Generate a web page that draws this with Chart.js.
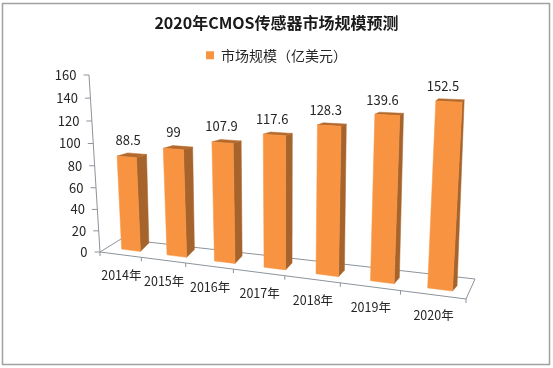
<!DOCTYPE html>
<html><head><meta charset="utf-8">
<style>html,body{margin:0;padding:0;background:#fff}#w{position:relative;width:553px;height:368px}</style>
<script src="https://cdn.jsdelivr.net/npm/chart.js@4"></script></head>
<body><div id="w"><canvas id="c" width="553" height="368"></canvas></div>
<script>
const categories = ['2014年','2015年','2016年','2017年','2018年','2019年','2020年'];
const marketSize = [88.5,99,107.9,117.6,128.3,139.6,152.5];
const seriesName = '市场规模（亿美元）';
const yTicks = [0,20,40,60,80,100,120,140,160];
const titleText = '2020年CMOS传感器市场规模预测';

const FONT = '"Noto Sans CJK SC","Noto Sans",sans-serif';
const FRONT='#F89441', SIDE='#A6642C', TOP='#B56A2D', AXIS='#8E949B', TEXT='#262626';

// homography from 4 source points to 4 destination points
function homography(s,d){
  const A=[];
  for(let i=0;i<4;i++){
    const [x,y]=s[i],[u,v]=d[i];
    A.push([x,y,1,0,0,0,-u*x,-u*y,u]);
    A.push([0,0,0,x,y,1,-v*x,-v*y,v]);
  }
  for(let c=0;c<8;c++){
    let p=c;for(let r=c+1;r<8;r++)if(Math.abs(A[r][c])>Math.abs(A[p][c]))p=r;
    [A[c],A[p]]=[A[p],A[c]];
    for(let r=0;r<8;r++){if(r===c)continue;const f=A[r][c]/A[c][c];for(let k=c;k<9;k++)A[r][k]-=f*A[c][k];}
  }
  const h=A.map((r,i)=>r[8]/r[i]);
  return (x,y)=>{const w=h[6]*x+h[7]*y+1;return [(h[0]*x+h[1]*y+h[2])/w,(h[3]*x+h[4]*y+h[5])/w];};
}
function quad(ctx,pts,fill){
  ctx.beginPath();pts.forEach((p,i)=>i?ctx.lineTo(p[0],p[1]):ctx.moveTo(p[0],p[1]));ctx.closePath();
  ctx.fillStyle=fill;ctx.fill();ctx.strokeStyle=fill;ctx.lineWidth=.5;ctx.stroke();
}
function line(ctx,a,b){ctx.beginPath();ctx.moveTo(a[0],a[1]);ctx.lineTo(b[0],b[1]);ctx.stroke();}

// perspective layout: where the plot's corners land on the page
const frontPlane=[[131,250.3],[440,289.5],[449.4,91.7],[123,77.5]];   // first/last bar centre at 0 and at axis max
const depthOffset=[[8.5,-8.5],[4.7,-5.5],[2.2,-2.1],[12,1]];          // bar depth at the same four corners
const axisPlane =[[100,252],[466,299],[477,67],[89,75]];              // outer edge of the axes
const floorBack =[[121,239],[475,279]];

const perspective={
  id:'perspective',
  beforeDatasetDraw(){return false;},
  afterDatasetsDraw(chart){
    const ctx=chart.ctx,xS=chart.scales.x,yS=chart.scales.y;
    const y0=yS.getPixelForValue(0),yM=yS.getPixelForValue(yS.max);
    const x0=xS.getPixelForValue(0),xN=xS.getPixelForValue(categories.length-1);
    const src=[[x0,y0],[xN,y0],[xN,yM],[x0,yM]];
    const F=homography(src,frontPlane);
    const B=(x,y)=>{
      const p=F(x,y),u=(x-x0)/(xN-x0),v=(y0-y)/(y0-yM),d=depthOffset;
      const bil=k=>(1-u)*(1-v)*d[0][k]+u*(1-v)*d[1][k]+u*v*d[2][k]+(1-u)*v*d[3][k];
      return [p[0]+bil(0),p[1]+bil(1)];
    };
    const step=(xN-x0)/(categories.length-1);
    const axL=x0-step/2,axR=xN+step/2;
    const A=homography([[axL,y0],[axR,y0],[axR,yM],[axL,yM]],axisPlane);
    ctx.save();
    // floor and axes
    ctx.strokeStyle=AXIS;ctx.lineWidth=1;
    const fl=A(axL,y0),fr=A(axR,y0);
    line(ctx,fl,fr);line(ctx,fl,floorBack[0]);line(ctx,floorBack[0],floorBack[1]);line(ctx,floorBack[1],fr);
    line(ctx,fl,A(axL,yM));
    // value axis ticks and labels
    ctx.font='13px '+FONT;ctx.fillStyle=TEXT;ctx.textAlign='right';ctx.textBaseline='middle';
    yS.ticks.forEach(t=>{
      const py=yS.getPixelForValue(t.value),p=A(axL,py);
      line(ctx,p,[p[0]-5.5,p[1]]);
      ctx.fillText(t.label,p[0]-12.5,p[1]);
    });
    // category ticks and labels
    ctx.textAlign='center';
    categories.forEach((c,i)=>{
      const l=A(axL+step*i,y0),r=A(axL+step*(i+1),y0);
      line(ctx,r,[r[0],r[1]+4]);if(i===0)line(ctx,l,[l[0],l[1]+4]);
      const m=A(axL+step*(i+.5),y0);
      ctx.font='12.5px '+FONT;
      ctx.fillStyle=TEXT;ctx.fillText(c,m[0]+1,m[1]+21);
    });
    // bars, far left first
    const meta=chart.getDatasetMeta(0);
    meta.data.forEach((el,i)=>{
      const hw=el.width/2,top=el.y,base=el.base,xl=el.x-hw,xr=el.x+hw;
      quad(ctx,[B(xr,base),B(xr,top),F(xr,top),F(xr,base)],SIDE);
      quad(ctx,[F(xl,top),F(xr,top),B(xr,top),B(xl,top)],TOP);
      quad(ctx,[F(xl,base),F(xr,base),F(xr,top),F(xl,top)],FRONT);
      const c=F(el.x,top),t=i/(categories.length-1);
      ctx.font='13px '+FONT;ctx.fillStyle=TEXT;ctx.textAlign='center';ctx.textBaseline='middle';
      ctx.fillText(String(marketSize[i]),c[0]+1.5-7.5*t,c[1]-17+2*t);
    });
    ctx.restore();
  }
};
const frame={
  id:'frame',
  beforeDraw(chart){
    const ctx=chart.ctx;ctx.save();ctx.fillStyle='#fff';ctx.fillRect(0,0,553,368);
    ctx.strokeStyle='#A0A0A0';ctx.lineWidth=1.5;ctx.strokeRect(2.5,3.5,547,361);ctx.restore();
  }
};
new Chart(document.getElementById('c'),{
  type:'bar',
  data:{labels:categories,datasets:[{label:seriesName,data:marketSize,backgroundColor:FRONT,barPercentage:.42,categoryPercentage:1}]},
  plugins:[frame,perspective],
  options:{
    responsive:false,animation:false,
    layout:{padding:{left:90,right:90,top:0,bottom:117}},
    plugins:{
      title:{display:true,text:titleText,color:'#1a1a1a',font:{family:FONT,size:16,weight:'bold'},padding:{top:13,bottom:10}},
      legend:{position:'top',labels:{boxWidth:8,boxHeight:8,color:TEXT,font:{family:FONT,size:14},padding:6}},
      tooltip:{enabled:false}
    },
    scales:{
      x:{display:false,offset:true},
      y:{display:false,min:0,max:160,afterBuildTicks(s){s.ticks=yTicks.map(v=>({value:v,label:String(v)}));}}
    }
  }
});
</script></body></html>
